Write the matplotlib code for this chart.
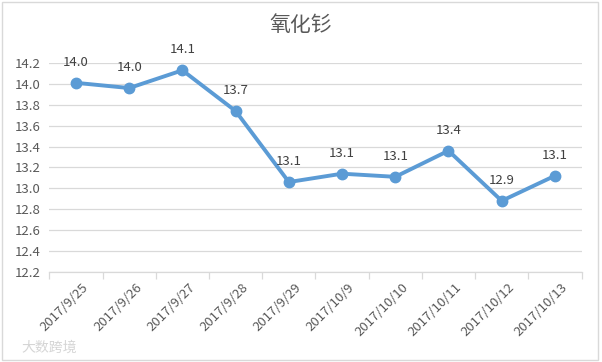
import matplotlib.pyplot as plt
from matplotlib.patches import Rectangle
from matplotlib.transforms import ScaledTranslation

plt.rcParams['font.family'] = ['Noto Sans CJK SC', 'DejaVu Sans']

dates = ['2017/9/25', '2017/9/26', '2017/9/27', '2017/9/28', '2017/9/29',
         '2017/10/9', '2017/10/10', '2017/10/11', '2017/10/12', '2017/10/13']
prices = [14.01, 13.96, 14.13, 13.74, 13.06, 13.14, 13.11, 13.36, 12.88, 13.12]
yticks = [12.2, 12.4, 12.6, 12.8, 13.0, 13.2, 13.4, 13.6, 13.8, 14.0, 14.2]

fig = plt.figure(figsize=(6.02, 3.62), dpi=100)
ax = fig.add_axes([0.082, 0.249, 0.884, 0.577])

x = list(range(len(dates)))
ax.plot(x, prices, color='#5B9BD5', linewidth=2.8, marker='o', markersize=7.5,
        solid_capstyle='round', solid_joinstyle='round', zorder=3)
for xi, v in zip(x, prices):
    ax.annotate(f'{v:.1f}', (xi, v), xytext=(0, 10), textcoords='offset points',
                ha='center', va='bottom', fontsize=9.5, color='#404040',
                annotation_clip=False)

ax.set_xlim(-0.5, len(dates) - 0.5)
ax.set_ylim(12.2, 14.2)
ax.set_yticks(yticks)
ax.set_yticklabels([f'{t:.1f}' for t in yticks])
ax.grid(axis='y', color='#D9D9D9', linewidth=0.9)
ax.set_axisbelow(True)
for s in ['top', 'right', 'left']:
    ax.spines[s].set_visible(False)
ax.spines['bottom'].set_color('#D9D9D9')
ax.spines['bottom'].set_linewidth(0.9)

ax.set_xticks(x)
ax.set_xticklabels(dates, rotation=45, ha='right', va='top', rotation_mode='anchor')
ax.set_xticks([i - 0.5 for i in range(len(dates) + 1)], minor=True)
ax.tick_params(axis='x', which='major', length=0, pad=8, labelsize=9.5,
               labelcolor='#595959')
ax.tick_params(axis='x', which='minor', length=5, color='#D9D9D9', width=0.9)
ax.tick_params(axis='y', length=0, labelsize=9.5, labelcolor='#595959', pad=6)
shift = ScaledTranslation(6 / 100, 2 / 100, fig.dpi_scale_trans)
for lbl in ax.get_xticklabels():
    lbl.set_transform(lbl.get_transform() + shift)

fig.text(0.5, 0.93, '氧化钐', ha='center', va='center', fontsize=15,
         color='#595959')
fig.text(0.035, 0.04, '大数跨境', ha='left', va='center', fontsize=10,
         color='#D5D5D5')
fig.patches.append(Rectangle((0.003, 0.005), 0.99, 0.99, transform=fig.transFigure,
                             fill=False, edgecolor='#D9D9D9', linewidth=1))

fig.savefig('out.png', dpi=100)
